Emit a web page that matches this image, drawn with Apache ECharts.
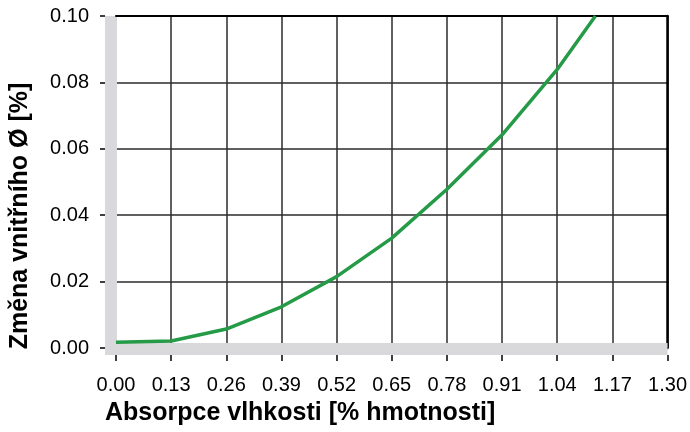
<!DOCTYPE html>
<html>
<head>
<meta charset="utf-8">
<script src="https://cdn.jsdelivr.net/npm/echarts@6/dist/echarts.min.js"></script>
<style>html,body{margin:0;padding:0;background:#fff}#c{width:690px;height:432px}</style>
</head>
<body>
<div id="c"></div>
<script>
// Data
const xValues = [0.00, 0.13, 0.26, 0.39, 0.52, 0.65, 0.78, 0.91, 1.04, 1.13];
const yValues = [0.0017, 0.0021, 0.0057, 0.0124, 0.0215, 0.0331, 0.0478, 0.0642, 0.0839, 0.1000];
const xTicks = { min: 0, max: 1.3, interval: 0.13 };
const yTicks = { min: 0, max: 0.1, interval: 0.02 };
const xTitle = 'Absorpce vlhkosti [% hmotnosti]';
const yTitle = 'Změna vnitřního Ø [%]';

const FONT = '"Liberation Sans", Arial, Helvetica, sans-serif';
const GRAY = '#d9d9db';
const GRID = '#2b2b2b';
const NONE = 'rgba(0,0,0,0)';
const seriesData = xValues.map((x, i) => [x, yValues[i]]);
const xLineColors = [NONE].concat(Array(10).fill(GRID));
const yLineColors = [NONE].concat(Array(5).fill(GRID));

const chart = echarts.init(document.getElementById('c'), null, { renderer: 'canvas' });
chart.setOption({
  animation: false,
  backgroundColor: '#fff',
  grid: { left: 116, right: 21, top: 16, bottom: 84, containLabel: false },
  graphic: [
    { type: 'rect', shape: { x: 105, y: 343, width: 12, height: 12 }, style: { fill: GRAY }, z: 0 },
    { type: 'text', left: 105, top: 401,
      style: { text: xTitle, font: 'bold 25px ' + FONT, fill: '#000' } }
  ],
  xAxis: [
    { type: 'value', min: xTicks.min, max: xTicks.max, interval: xTicks.interval, position: 'bottom', offset: 1,
      axisLine: { show: true, onZero: false, lineStyle: { color: GRAY, width: 12, cap: 'butt' } },
      axisTick: { show: false }, axisLabel: { show: false },
      splitLine: { show: true, lineStyle: { color: xLineColors, width: 1.5 } } },
    { type: 'value', min: xTicks.min, max: xTicks.max, interval: xTicks.interval, position: 'bottom', offset: 7,
      axisLine: { show: false, onZero: false },
      axisTick: { show: true, length: 6, lineStyle: { color: '#000', width: 1.5 } },
      axisLabel: { show: true, margin: 20, fontSize: 20, fontFamily: FONT, color: '#000',
        formatter: v => v.toFixed(2) },
      splitLine: { show: false } },
    { type: 'value', min: xTicks.min, max: xTicks.max, position: 'top',
      axisLine: { show: true, onZero: false, lineStyle: { color: '#000', width: 2 } },
      axisTick: { show: false }, axisLabel: { show: false }, splitLine: { show: false } }
  ],
  yAxis: [
    { type: 'value', min: yTicks.min, max: yTicks.max, interval: yTicks.interval, position: 'left', offset: 5,
      axisLine: { show: true, onZero: false, lineStyle: { color: GRAY, width: 12, cap: 'butt' } },
      axisTick: { show: false }, axisLabel: { show: false },
      splitLine: { show: true, lineStyle: { color: yLineColors, width: 1.5 } } },
    { type: 'value', min: yTicks.min, max: yTicks.max, interval: yTicks.interval, position: 'left', offset: 11,
      axisLine: { show: false, onZero: false },
      axisTick: { show: true, length: 5, lineStyle: { color: '#000', width: 1.5 } },
      axisLabel: { show: true, margin: 16, fontSize: 20, fontFamily: FONT, color: '#000',
        formatter: v => v.toFixed(2) },
      splitLine: { show: false },
      name: yTitle, nameLocation: 'middle', nameGap: 72,
      nameTextStyle: { fontSize: 25, fontWeight: 'bold', fontFamily: FONT, color: '#000',
        padding: [0, 68, 0, 0] } },
    { type: 'value', min: yTicks.min, max: yTicks.max, position: 'right',
      axisLine: { show: true, onZero: false, lineStyle: { color: '#000', width: 2.5 } },
      axisTick: { show: false }, axisLabel: { show: false }, splitLine: { show: false } }
  ],
  series: [{
    type: 'line', xAxisIndex: 0, yAxisIndex: 0, data: seriesData,
    showSymbol: false, symbol: 'none', clip: true, z: 5,
    lineStyle: { color: '#259a47', width: 3.5 }
  }]
});
</script>
</body>
</html>
